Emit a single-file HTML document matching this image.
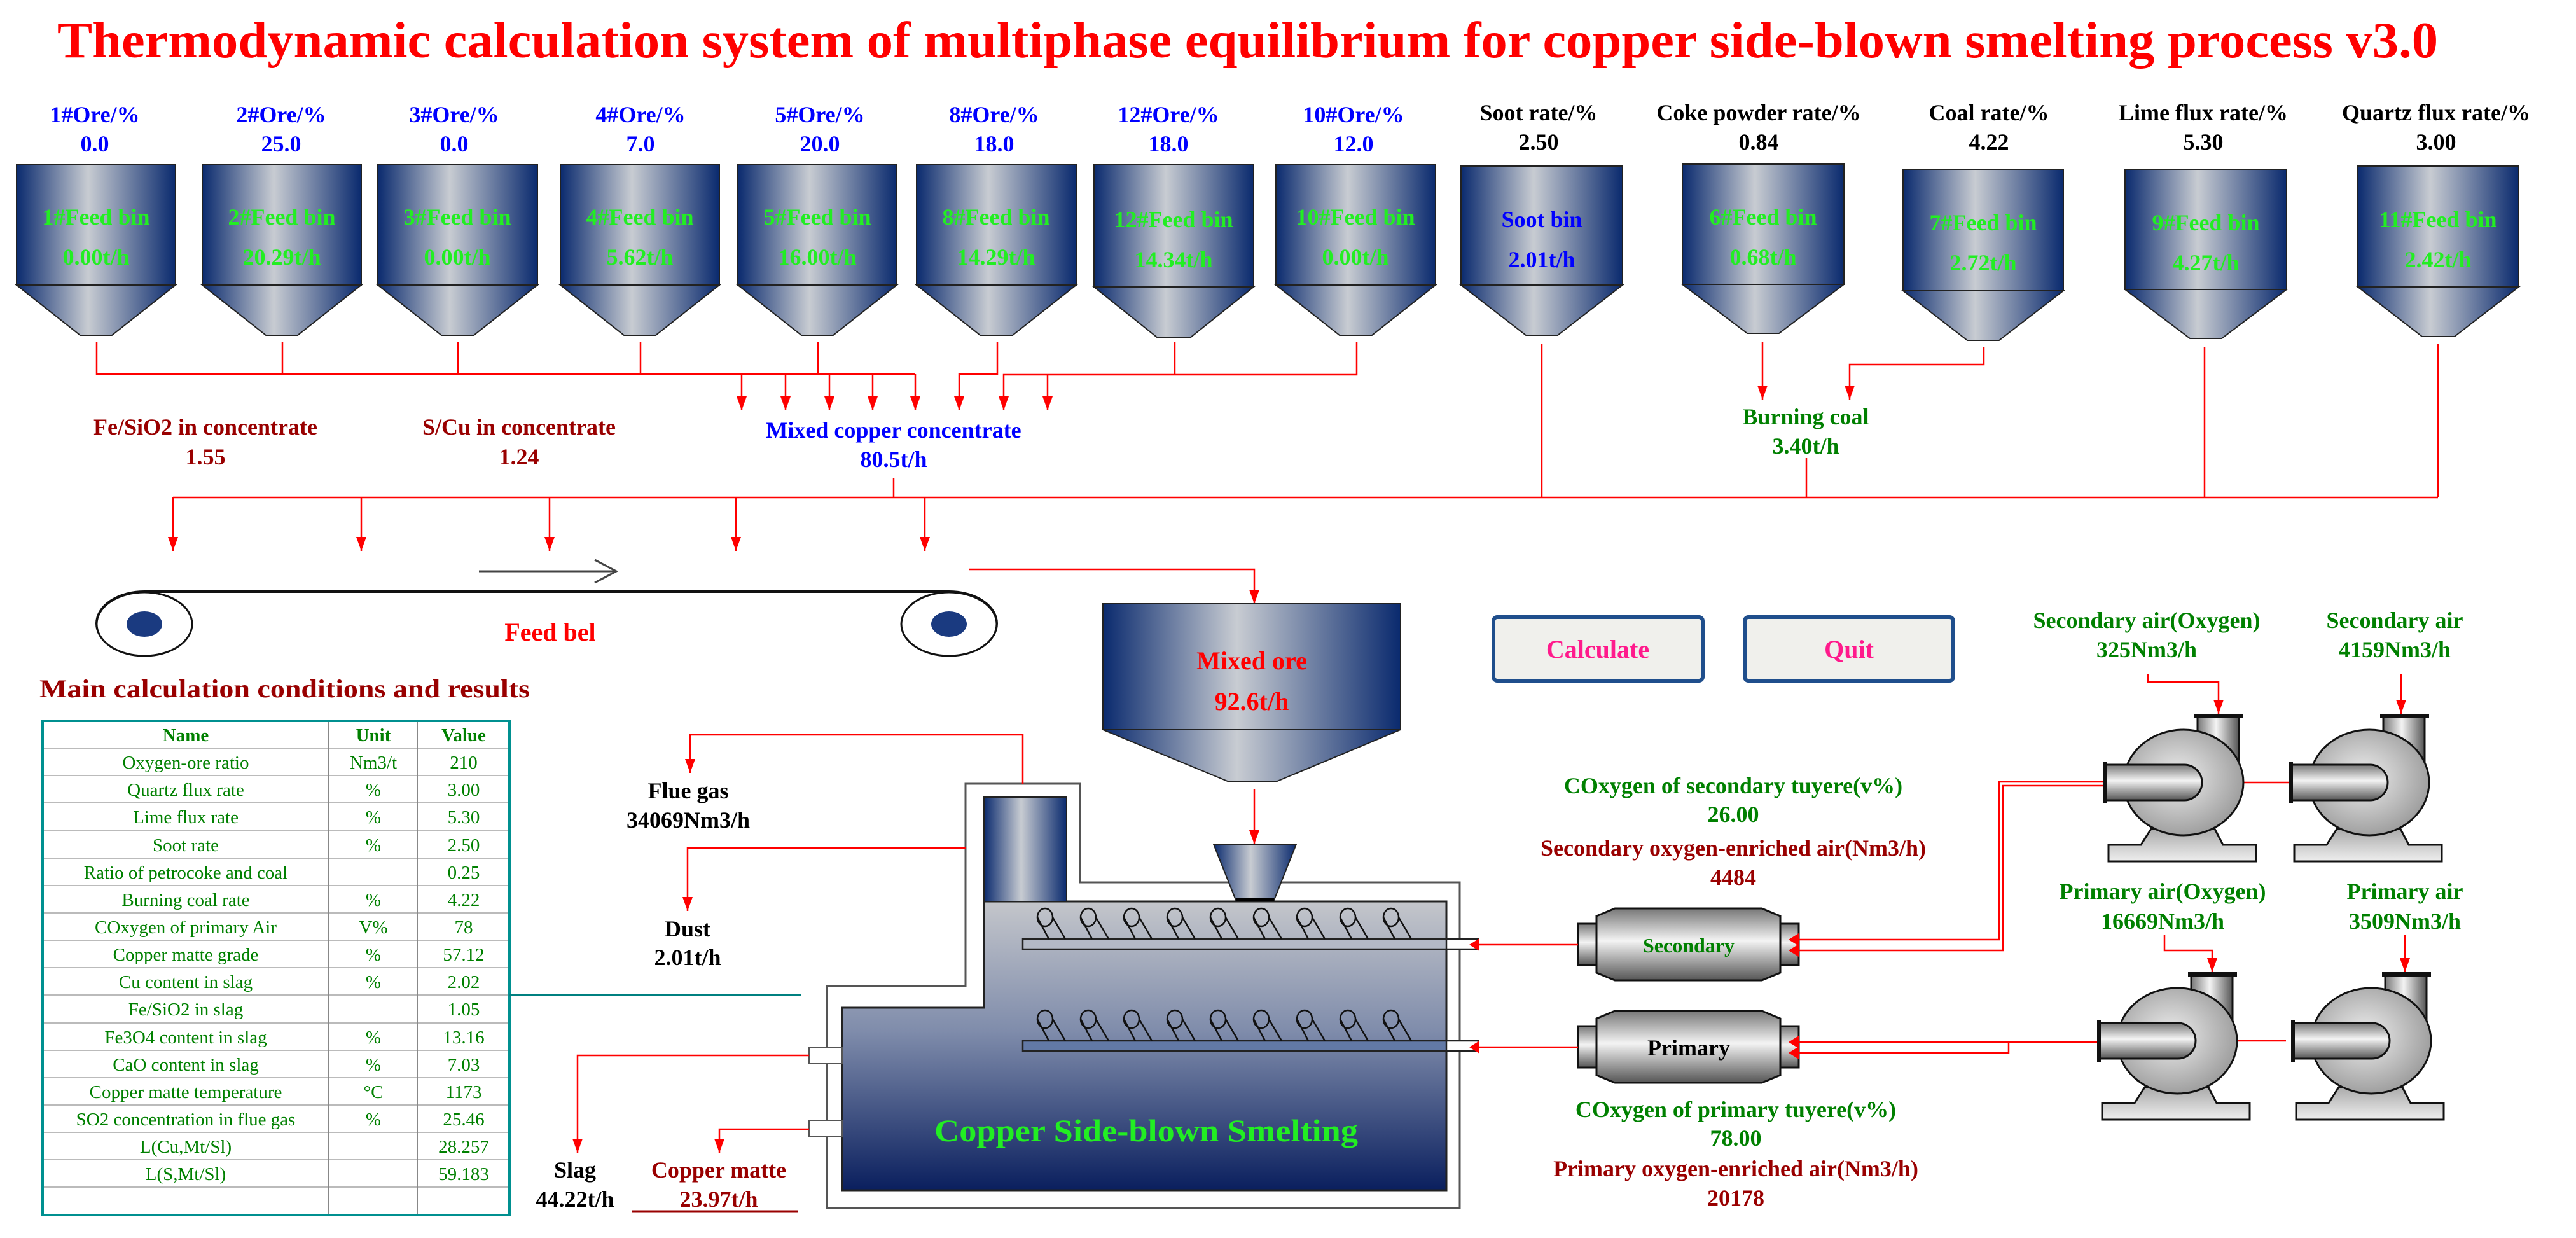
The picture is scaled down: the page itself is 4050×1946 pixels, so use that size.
<!DOCTYPE html>
<html><head><meta charset="utf-8"><style>html,body{margin:0;padding:0;background:#fff}svg{display:block}</style></head><body>
<svg xmlns="http://www.w3.org/2000/svg" width="4050" height="1946" viewBox="0 0 4050 1946" font-family="'Liberation Serif', serif" font-weight="bold">
<defs>
<linearGradient id="bin" x1="0" x2="1" y1="0" y2="0"><stop offset="0" stop-color="#0a2a6e"/><stop offset="0.45" stop-color="#c8ccd2"/><stop offset="1" stop-color="#0a2a6e"/></linearGradient>
<linearGradient id="furn" x1="0" x2="0" y1="0" y2="1"><stop offset="0" stop-color="#c4c6cb"/><stop offset="0.45" stop-color="#7f8cab"/><stop offset="1" stop-color="#0a1f5e"/></linearGradient>
<linearGradient id="pipeH" x1="0" x2="0" y1="0" y2="1"><stop offset="0" stop-color="#777"/><stop offset="0.45" stop-color="#f4f4f4"/><stop offset="1" stop-color="#555"/></linearGradient>
<linearGradient id="pipeV" x1="0" x2="1" y1="0" y2="0"><stop offset="0" stop-color="#777"/><stop offset="0.45" stop-color="#f4f4f4"/><stop offset="1" stop-color="#555"/></linearGradient>
<radialGradient id="vol" cx="0.45" cy="0.45" r="0.6"><stop offset="0" stop-color="#eee"/><stop offset="1" stop-color="#999"/></radialGradient>
<linearGradient id="base" x1="0" x2="0" y1="0" y2="1"><stop offset="0" stop-color="#aaa"/><stop offset="1" stop-color="#eee"/></linearGradient>
<marker id="al" markerWidth="16" markerHeight="20" refX="16" refY="10" orient="0" markerUnits="userSpaceOnUse"><path d="M0,10 L16,0 L16,20 z" fill="#f00"/></marker>
<marker id="ad" markerWidth="16" markerHeight="22" refX="8" refY="22" orient="0" markerUnits="userSpaceOnUse"><path d="M0,0 L16,0 L8,22 z" fill="#f00"/></marker>
<g id="pump">
<path d="M-51,73 L49,73 L62,98 L114,98 L114,124 L-118,124 L-118,98 L-67,98 z" fill="url(#base)" stroke="#111" stroke-width="3"/>
<rect x="22" y="-104" width="65" height="90" fill="url(#pipeV)" stroke="#111" stroke-width="3"/>
<rect x="17" y="-108" width="77" height="7" fill="#111"/>
<ellipse cx="0" cy="0" rx="94" ry="83" fill="url(#vol)" stroke="#111" stroke-width="3"/>
<path d="M-123,-28 L1,-28 A28,28 0 0 1 1,28 L-123,28 z" fill="url(#pipeH)" stroke="#111" stroke-width="3"/>
<rect x="-126" y="-33" width="6" height="66" fill="#111"/>
</g>
</defs>

<text x="90" y="90" font-size="80" fill="#f00" textLength="3743" lengthAdjust="spacingAndGlyphs">Thermodynamic calculation system of multiphase equilibrium for copper side-blown smelting process v3.0</text>

<g stroke="#222" stroke-width="2">
<g fill="url(#bin)">
<rect x="26" y="259" width="250" height="189"/><path d="M26,448 L276,448 L176,527 L126,527 z"/>
<rect x="318" y="259" width="250" height="189"/><path d="M318,448 L568,448 L468,527 L418,527 z"/>
<rect x="594" y="259" width="251" height="189"/><path d="M594,448 L845,448 L745,527 L694,527 z"/>
<rect x="881" y="259" width="250" height="189"/><path d="M881,448 L1131,448 L1031,527 L981,527 z"/>
<rect x="1160" y="259" width="250" height="189"/><path d="M1160,448 L1410,448 L1310,527 L1260,527 z"/>
<rect x="1441" y="259" width="251" height="189"/><path d="M1441,448 L1692,448 L1592,527 L1541,527 z"/>
<rect x="1720" y="259" width="251" height="192"/><path d="M1720,451 L1971,451 L1871,531 L1820,531 z"/>
<rect x="2006" y="259" width="251" height="189"/><path d="M2006,448 L2257,448 L2157,527 L2106,527 z"/>
<rect x="2297" y="261" width="254" height="187"/><path d="M2297,448 L2551,448 L2449,527 L2399,527 z"/>
<rect x="2645" y="258" width="254" height="189"/><path d="M2645,447 L2899,447 L2797,524 L2747,524 z"/>
<rect x="2992" y="267" width="252" height="190"/><path d="M2992,457 L3244,457 L3143,535 L3093,535 z"/>
<rect x="3341" y="267" width="254" height="188"/><path d="M3341,455 L3595,455 L3493,532 L3443,532 z"/>
<rect x="3707" y="261" width="253" height="190"/><path d="M3707,451 L3960,451 L3859,529 L3808,529 z"/>
</g></g>

<g font-size="36" text-anchor="middle" fill="#0000ff">
<text x="149" y="192">1#Ore/%</text><text x="149" y="238">0.0</text>
<text x="442" y="192">2#Ore/%</text><text x="442" y="238">25.0</text>
<text x="714" y="192">3#Ore/%</text><text x="714" y="238">0.0</text>
<text x="1007" y="192">4#Ore/%</text><text x="1007" y="238">7.0</text>
<text x="1289" y="192">5#Ore/%</text><text x="1289" y="238">20.0</text>
<text x="1563" y="192">8#Ore/%</text><text x="1563" y="238">18.0</text>
<text x="1837" y="192">12#Ore/%</text><text x="1837" y="238">18.0</text>
<text x="2128" y="192">10#Ore/%</text><text x="2128" y="238">12.0</text>
</g>
<g font-size="36" text-anchor="middle" fill="#000">
<text x="2419" y="189">Soot rate/%</text><text x="2419" y="235">2.50</text>
<text x="2765" y="189">Coke powder rate/%</text><text x="2765" y="235">0.84</text>
<text x="3127" y="189">Coal rate/%</text><text x="3127" y="235">4.22</text>
<text x="3464" y="189">Lime flux rate/%</text><text x="3464" y="235">5.30</text>
<text x="3830" y="189">Quartz flux rate/%</text><text x="3830" y="235">3.00</text>
</g>
<g font-size="36" text-anchor="middle" fill="#22ee22">
<text x="151" y="353">1#Feed bin</text><text x="151" y="416">0.00t/h</text>
<text x="443" y="353">2#Feed bin</text><text x="443" y="416">20.29t/h</text>
<text x="719" y="353">3#Feed bin</text><text x="719" y="416">0.00t/h</text>
<text x="1006" y="353">4#Feed bin</text><text x="1006" y="416">5.62t/h</text>
<text x="1285" y="353">5#Feed bin</text><text x="1285" y="416">16.00t/h</text>
<text x="1566" y="353">8#Feed bin</text><text x="1566" y="416">14.29t/h</text>
<text x="1845" y="357">12#Feed bin</text><text x="1845" y="420">14.34t/h</text>
<text x="2131" y="353">10#Feed bin</text><text x="2131" y="416">0.00t/h</text>
<text x="2772" y="353">6#Feed bin</text><text x="2772" y="416">0.68t/h</text>
<text x="3118" y="362">7#Feed bin</text><text x="3118" y="425">2.72t/h</text>
<text x="3468" y="362">9#Feed bin</text><text x="3468" y="425">4.27t/h</text>
<text x="3833" y="357">11#Feed bin</text><text x="3833" y="420">2.42t/h</text>
</g>
<text x="2424" y="357" font-size="36" text-anchor="middle" fill="#0000ff">Soot bin</text>
<text x="2424" y="420" font-size="36" text-anchor="middle" fill="#0000ff">2.01t/h</text>

<g stroke="#f00" stroke-width="2.5" fill="none">
<path d="M152,537 V588 H1439"/><path d="M444,537 V588"/><path d="M720,537 V588"/><path d="M1007,537 V588"/><path d="M1286,537 V588"/>
<path d="M1166,588 V645" marker-end="url(#ad)"/><path d="M1235,588 V645" marker-end="url(#ad)"/><path d="M1304,588 V645" marker-end="url(#ad)"/><path d="M1372,588 V645" marker-end="url(#ad)"/><path d="M1439,588 V645" marker-end="url(#ad)"/>
<path d="M1568,537 V588 H1508 V645" marker-end="url(#ad)"/>
<path d="M1847,537 V589"/><path d="M2133,537 V589 H1578 V645" marker-end="url(#ad)"/><path d="M1647,589 V645" marker-end="url(#ad)"/>
<path d="M2771,537 V628" marker-end="url(#ad)"/>
<path d="M3119,546 V573 H2908 V628" marker-end="url(#ad)"/>
<path d="M1405,752 V782"/><path d="M272,782 H3833"/>
<path d="M272,782 V866" marker-end="url(#ad)"/><path d="M568,782 V866" marker-end="url(#ad)"/><path d="M864,782 V866" marker-end="url(#ad)"/><path d="M1157,782 V866" marker-end="url(#ad)"/><path d="M1454,782 V866" marker-end="url(#ad)"/>
<path d="M2424,540 V782"/><path d="M2840,720 V782"/><path d="M3466,546 V782"/><path d="M3833,540 V782"/>
<path d="M1524,895 H1972 V949" marker-end="url(#ad)"/>
</g>
<g font-size="36" text-anchor="middle">
<text x="323" y="683" fill="#990000">Fe/SiO2 in concentrate</text><text x="323" y="730" fill="#990000">1.55</text>
<text x="816" y="683" fill="#990000">S/Cu in concentrate</text><text x="816" y="730" fill="#990000">1.24</text>
<text x="1405" y="688" fill="#0000ff">Mixed copper concentrate</text><text x="1405" y="734" fill="#0000ff">80.5t/h</text>
<text x="2839" y="667" fill="#008000">Burning coal</text><text x="2839" y="713" fill="#008000">3.40t/h</text>
</g>

<path d="M753,898 H967 M935,880 L969,898 L935,916" stroke="#444" stroke-width="3" fill="none"/>
<rect x="152" y="930" width="1415" height="100" rx="75" ry="50" fill="none" stroke="#111" stroke-width="4"/>
<line x1="227" y1="1030" x2="1492" y2="1030" stroke="#fff" stroke-width="5"/>
<ellipse cx="227" cy="981" rx="75" ry="50" fill="#fff" stroke="#111" stroke-width="3"/>
<ellipse cx="1492" cy="981" rx="75" ry="50" fill="#fff" stroke="#111" stroke-width="3"/>
<ellipse cx="227" cy="981" rx="28" ry="20" fill="#1a3a80"/>
<ellipse cx="1492" cy="981" rx="28" ry="20" fill="#1a3a80"/>
<text x="865" y="1007" font-size="40" text-anchor="middle" fill="#f00">Feed bel</text>

<text x="62" y="1096" font-size="40" fill="#990000" textLength="771" lengthAdjust="spacingAndGlyphs">Main calculation conditions and results</text>
<g stroke="#bbb" stroke-width="2">
<line x1="67" x2="801" y1="1176" y2="1176"/><line x1="67" x2="801" y1="1219" y2="1219"/><line x1="67" x2="801" y1="1262" y2="1262"/><line x1="67" x2="801" y1="1306" y2="1306"/><line x1="67" x2="801" y1="1349" y2="1349"/><line x1="67" x2="801" y1="1392" y2="1392"/><line x1="67" x2="801" y1="1435" y2="1435"/><line x1="67" x2="801" y1="1478" y2="1478"/><line x1="67" x2="801" y1="1521" y2="1521"/><line x1="67" x2="801" y1="1564" y2="1564"/><line x1="67" x2="801" y1="1608" y2="1608"/><line x1="67" x2="801" y1="1651" y2="1651"/><line x1="67" x2="801" y1="1694" y2="1694"/><line x1="67" x2="801" y1="1737" y2="1737"/><line x1="67" x2="801" y1="1780" y2="1780"/><line x1="67" x2="801" y1="1823" y2="1823"/><line x1="67" x2="801" y1="1866" y2="1866"/>
<line x1="517" x2="517" y1="1133" y2="1910" stroke="#888"/><line x1="656" x2="656" y1="1133" y2="1910" stroke="#888"/>
</g>
<rect x="67" y="1133" width="734" height="777" fill="none" stroke="#009090" stroke-width="4"/>
<line x1="801" y1="1564" x2="1259" y2="1564" stroke="#008080" stroke-width="4"/>
<g font-size="29" font-weight="normal" fill="#008000" text-anchor="middle">
<text x="292" y="1165" font-weight="bold">Name</text><text x="587" y="1165" font-weight="bold">Unit</text><text x="729" y="1165" font-weight="bold">Value</text>
<text x="292" y="1208">Oxygen-ore ratio</text><text x="587" y="1208">Nm3/t</text><text x="729" y="1208">210</text>
<text x="292" y="1251">Quartz flux rate</text><text x="587" y="1251">%</text><text x="729" y="1251">3.00</text>
<text x="292" y="1294">Lime flux rate</text><text x="587" y="1294">%</text><text x="729" y="1294">5.30</text>
<text x="292" y="1338">Soot rate</text><text x="587" y="1338">%</text><text x="729" y="1338">2.50</text>
<text x="292" y="1381">Ratio of petrocoke and coal</text><text x="729" y="1381">0.25</text>
<text x="292" y="1424">Burning coal rate</text><text x="587" y="1424">%</text><text x="729" y="1424">4.22</text>
<text x="292" y="1467">COxygen of primary Air</text><text x="587" y="1467">V%</text><text x="729" y="1467">78</text>
<text x="292" y="1510">Copper matte grade</text><text x="587" y="1510">%</text><text x="729" y="1510">57.12</text>
<text x="292" y="1553">Cu content in slag</text><text x="587" y="1553">%</text><text x="729" y="1553">2.02</text>
<text x="292" y="1596">Fe/SiO2 in slag</text><text x="729" y="1596">1.05</text>
<text x="292" y="1640">Fe3O4 content in slag</text><text x="587" y="1640">%</text><text x="729" y="1640">13.16</text>
<text x="292" y="1683">CaO content in slag</text><text x="587" y="1683">%</text><text x="729" y="1683">7.03</text>
<text x="292" y="1726">Copper matte temperature</text><text x="587" y="1726">°C</text><text x="729" y="1726">1173</text>
<text x="292" y="1769">SO2 concentration in flue gas</text><text x="587" y="1769">%</text><text x="729" y="1769">25.46</text>
<text x="292" y="1812">L(Cu,Mt/Sl)</text><text x="729" y="1812">28.257</text>
<text x="292" y="1855">L(S,Mt/Sl)</text><text x="729" y="1855">59.183</text>
</g>

<g stroke="#222" stroke-width="2" fill="url(#bin)">
<rect x="1734" y="949" width="468" height="198"/>
<path d="M1734,1147 L2202,1147 L2008,1228 L1930,1228 z"/>
</g>
<text x="1968" y="1052" font-size="40" text-anchor="middle" fill="#f00">Mixed ore</text>
<text x="1968" y="1116" font-size="40" text-anchor="middle" fill="#f00">92.6t/h</text>

<path d="M1518,1232 H1698 V1387 H2295 V1899 H1300 V1550 H1518 z" fill="#fff" stroke="#555" stroke-width="3"/>
<path d="M1547,1417 H2274 V1871 H1324 V1584 H1547 z" fill="url(#furn)" stroke="#222" stroke-width="3"/>
<rect x="1547" y="1253" width="130" height="164" fill="url(#bin)" stroke="#222" stroke-width="2"/>
<path d="M1908,1327 L2038,1327 L2003,1415 L1943,1415 z" fill="url(#bin)" stroke="#222" stroke-width="2"/>
<rect x="1943" y="1412" width="60" height="5" fill="#000"/>
<g stroke="#222" stroke-width="2.5">
<rect x="1608" y="1476" width="716" height="16" fill="#b3b9c6"/>
<rect x="2274" y="1476" width="50" height="16" fill="#fff"/>
<rect x="1608" y="1636" width="716" height="16" fill="#6279a6"/>
<rect x="2274" y="1636" width="50" height="16" fill="#fff"/>
</g>
<g fill="none" stroke="#111" stroke-width="2.5" id="coils">
<path d="M1631,1442 L1649,1476 M1655,1442 L1675,1476"/><ellipse cx="1643" cy="1442" rx="12" ry="14"/>
<path d="M1699,1442 L1717,1476 M1723,1442 L1743,1476"/><ellipse cx="1711" cy="1442" rx="12" ry="14"/>
<path d="M1767,1442 L1785,1476 M1791,1442 L1811,1476"/><ellipse cx="1779" cy="1442" rx="12" ry="14"/>
<path d="M1835,1442 L1853,1476 M1859,1442 L1879,1476"/><ellipse cx="1847" cy="1442" rx="12" ry="14"/>
<path d="M1903,1442 L1921,1476 M1927,1442 L1947,1476"/><ellipse cx="1915" cy="1442" rx="12" ry="14"/>
<path d="M1971,1442 L1989,1476 M1995,1442 L2015,1476"/><ellipse cx="1983" cy="1442" rx="12" ry="14"/>
<path d="M2039,1442 L2057,1476 M2063,1442 L2083,1476"/><ellipse cx="2051" cy="1442" rx="12" ry="14"/>
<path d="M2107,1442 L2125,1476 M2131,1442 L2151,1476"/><ellipse cx="2119" cy="1442" rx="12" ry="14"/>
<path d="M2175,1442 L2193,1476 M2199,1442 L2219,1476"/><ellipse cx="2187" cy="1442" rx="12" ry="14"/>
</g>
<use href="#coils" transform="translate(0,160)"/>
<rect x="1272" y="1647" width="52" height="25" fill="#fff" stroke="#555" stroke-width="2"/>
<rect x="1272" y="1761" width="52" height="25" fill="#fff" stroke="#555" stroke-width="2"/>
<text x="1802" y="1794" font-size="50" font-family="'Liberation Serif', serif" text-anchor="middle" fill="#22ee22" textLength="666" lengthAdjust="spacingAndGlyphs">Copper Side-blown Smelting</text>

<g stroke="#f00" stroke-width="2.5" fill="none">
<path d="M1972,1240 V1327" marker-end="url(#ad)"/>
<path d="M1608,1232 V1155 H1085 V1215" marker-end="url(#ad)"/>
<path d="M1518,1333 H1081 V1432" marker-end="url(#ad)"/>
<path d="M1272,1659 H908 V1812" marker-end="url(#ad)"/>
<path d="M1272,1775 H1131 V1812" marker-end="url(#ad)"/>
</g>
<line x1="994" y1="1904" x2="1255" y2="1904" stroke="#990000" stroke-width="3"/>
<g font-size="36" text-anchor="middle" fill="#000">
<text x="1082" y="1255">Flue gas</text><text x="1082" y="1301">34069Nm3/h</text>
<text x="1081" y="1472">Dust</text><text x="1081" y="1517">2.01t/h</text>
<text x="904" y="1851">Slag</text><text x="904" y="1897">44.22t/h</text>
<text x="1130" y="1851" fill="#990000">Copper matte</text><text x="1130" y="1897" fill="#990000">23.97t/h</text>
</g>

<rect x="2348" y="970" width="329" height="100" rx="6" fill="#f0f0ec" stroke="#1f4e8c" stroke-width="6"/>
<rect x="2743" y="970" width="328" height="100" rx="6" fill="#f0f0ec" stroke="#1f4e8c" stroke-width="6"/>
<text x="2512" y="1034" font-size="40" text-anchor="middle" fill="#ff1a8c">Calculate</text>
<text x="2907" y="1034" font-size="40" text-anchor="middle" fill="#ff1a8c">Quit</text>

<g stroke="#111" stroke-width="3" fill="url(#pipeH)">
<rect x="2481" y="1452" width="29" height="65"/><rect x="2799" y="1452" width="29" height="65"/>
<path d="M2510,1440 L2539,1428 L2770,1428 L2799,1440 L2799,1529 L2770,1541 L2539,1541 L2510,1529 z"/>
<rect x="2481" y="1613" width="29" height="65"/><rect x="2799" y="1613" width="29" height="65"/>
<path d="M2510,1601 L2539,1589 L2770,1589 L2799,1601 L2799,1690 L2770,1702 L2539,1702 L2510,1690 z"/>
</g>
<text x="2655" y="1497" font-size="32" text-anchor="middle" fill="#008000">Secondary</text>
<text x="2655" y="1659" font-size="36" text-anchor="middle" fill="#000">Primary</text>

<g stroke="#f00" stroke-width="2.5" fill="none">
<path d="M2481,1485 H2326" marker-end="url(#al)"/>
<path d="M2481,1646 H2326" marker-end="url(#al)"/>
<path d="M3307,1229 H3143 V1477 H2828" marker-end="url(#al)"/>
<path d="M3307,1235 H3149 V1494 H2828" marker-end="url(#al)"/>
<path d="M3297,1638 H2828" marker-end="url(#al)"/>
<path d="M3158,1638 V1655 H2828" marker-end="url(#al)"/>
<path d="M3527,1230 H3601"/><path d="M3517,1636 H3594"/>
<path d="M3377,1060 V1072 H3488 V1122" marker-end="url(#ad)"/>
<path d="M3775,1060 V1122" marker-end="url(#ad)"/>
<path d="M3403,1469 V1494 H3478 V1528" marker-end="url(#ad)"/>
<path d="M3781,1469 V1528" marker-end="url(#ad)"/>
</g>
<use href="#pump" transform="translate(3433,1230)"/>
<use href="#pump" transform="translate(3725,1230)"/>
<use href="#pump" transform="translate(3423,1636)"/>
<use href="#pump" transform="translate(3728,1636)"/>

<g font-size="36" text-anchor="middle" fill="#008000">
<text x="3375" y="987">Secondary air(Oxygen)</text><text x="3375" y="1033">325Nm3/h</text>
<text x="3765" y="987">Secondary air</text><text x="3765" y="1033">4159Nm3/h</text>
<text x="3400" y="1413">Primary air(Oxygen)</text><text x="3400" y="1460">16669Nm3/h</text>
<text x="3781" y="1413">Primary air</text><text x="3781" y="1460">3509Nm3/h</text>
<text x="2725" y="1247">COxygen of secondary tuyere(v%)</text><text x="2725" y="1292">26.00</text>
<text x="2725" y="1345" fill="#990000">Secondary oxygen-enriched air(Nm3/h)</text><text x="2725" y="1391" fill="#990000">4484</text>
<text x="2729" y="1756">COxygen of primary tuyere(v%)</text><text x="2729" y="1801">78.00</text>
<text x="2729" y="1849" fill="#990000">Primary oxygen-enriched air(Nm3/h)</text><text x="2729" y="1895" fill="#990000">20178</text>
</g>
</svg>
</body></html>
